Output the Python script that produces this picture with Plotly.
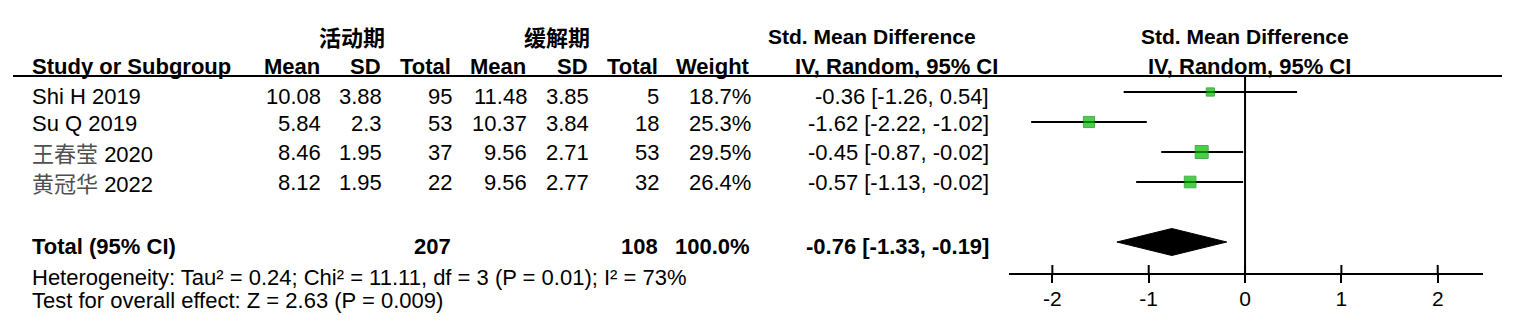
import plotly.graph_objects as go

# ---------------- data ----------------
studies_cn = ["", "", "王春莹", "黄冠华"]
studies_en = ["Shi H 2019", "Su Q 2019", "2020", "2022"]
mean1 = [10.08, 5.84, 8.46, 8.12]
sd1 = [3.88, 2.3, 1.95, 1.95]
n1 = [95, 53, 37, 22]
mean2 = [11.48, 10.37, 9.56, 9.56]
sd2 = [3.85, 3.84, 2.71, 2.77]
n2 = [5, 18, 53, 32]
weight = [18.7, 25.3, 29.5, 26.4]
smd = [-0.36, -1.62, -0.45, -0.57]
ci_lo = [-1.26, -2.22, -0.87, -1.13]
ci_hi = [0.54, -1.02, -0.02, -0.02]
total_n1 = 207
total_n2 = 108
total_weight = 100.0
total_smd = -0.76
total_lo = -1.33
total_hi = -0.19
group1 = "活动期"
group2 = "缓解期"
heterogeneity = "Heterogeneity: Tau² = 0.24; Chi² = 11.11, df = 3 (P = 0.01); I² = 73%"
overall = "Test for overall effect: Z = 2.63 (P = 0.009)"
tick_vals = [-2, -1, 0, 1, 2]
tick_text = ["-2", "-1", "0", "1", "2"]

# ---------------- layout constants ----------------
W, H = 1535, 332
FONT = "Liberation Sans, Arial, sans-serif"
CJK = "Noto Sans CJK SC"
FS = 22
ROW0, ROWH = 92, 30          # pixel y of first row, row spacing
AXIS_PX = 273                # pixel y of forest x-axis
HEAD_LINE_PX = 76
X_LEFT_PX, X_RIGHT_PX = 1009, 1483
XR = [-2.45, 2.47]
TOTAL_IDX = 5.0


def px2idx(py):
    return (py - ROW0) / ROWH


def px(x):
    return x / W


def py(y):
    return 1 - y / H


green = "#00BB00"
green_edge = "#008A00"

fig = go.Figure()

# CI lines
xs, ys = [], []
for i in range(len(smd)):
    xs += [ci_lo[i], ci_hi[i], None]
    ys += [i, i, None]
fig.add_trace(go.Scatter(x=xs, y=ys, mode="lines",
                         line=dict(color="black", width=2), hoverinfo="skip"))
# squares
fig.add_trace(go.Scatter(x=smd, y=list(range(len(smd))), mode="markers",
                         marker=dict(symbol="square", color=green,
                                     size=[w * 0.44 for w in weight],
                                     line=dict(color=green_edge, width=1)),
                         hoverinfo="skip"))
# diamond
hh = 13.5 / ROWH
fig.add_trace(go.Scatter(
    x=[total_lo, total_smd, total_hi, total_smd, total_lo],
    y=[TOTAL_IDX, TOTAL_IDX - hh, TOTAL_IDX, TOTAL_IDX + hh, TOTAL_IDX],
    mode="lines", fill="toself", fillcolor="black",
    line=dict(color="black", width=1), hoverinfo="skip"))

ann = []


def add(text, x, y, anchor="right", bold=False, yref="y", size=FS, family=FONT, color="black"):
    if bold:
        text = f"<b>{text}</b>"
    ann.append(dict(text=text, x=px(x), xref="paper", y=y, yref=yref,
                    xanchor=anchor, yanchor="middle", showarrow=False,
                    font=dict(family=family, size=size, color=color)))


# headers
HDR1 = py(36)
HDR2 = py(66)
add(group1, 352, HDR1, anchor="center", bold=True, yref="paper", size=22, family=CJK)
add(group2, 557, HDR1, anchor="center", bold=True, yref="paper", size=22, family=CJK)
add("Std. Mean Difference", 872, HDR1, anchor="center", bold=True, yref="paper", size=21)
add("Std. Mean Difference", 1245, HDR1, anchor="center", bold=True, yref="paper", size=21)
add("Study or Subgroup", 30, HDR2, anchor="left", bold=True, yref="paper")
cols_right = [322, 383, 453, 528, 590, 660, 752]
col_names = ["Mean", "SD", "Total", "Mean", "SD", "Total", "Weight"]
for xr_, nm in zip(cols_right, col_names):
    add(nm, xr_, HDR2, bold=True, yref="paper")
add("IV, Random, 95% CI", 1000, HDR2, bold=True, yref="paper")
add("IV, Random, 95% CI", 1249, HDR2, anchor="center", bold=True, yref="paper")

# study rows
TEXT_OFF = [0.15, 0.05, 0.0, 0.0]
for i in range(len(smd)):
    if studies_cn[i]:
        label = (f"<span style=\"font-family:'{CJK}';color:#505050\">{studies_cn[i]}</span> "
                 f"{studies_en[i]}")
    else:
        label = studies_en[i]
    ty = i + TEXT_OFF[i]
    add(label, 30, ty, anchor="left")
    vals = [f"{mean1[i]:g}", f"{sd1[i]:g}", f"{n1[i]}", f"{mean2[i]:g}",
            f"{sd2[i]:g}", f"{n2[i]}", f"{weight[i]:.1f}%"]
    for xr_, v in zip(cols_right, vals):
        add(v, xr_ + 1, ty)
    add(f"{smd[i]:.2f} [{ci_lo[i]:.2f}, {ci_hi[i]:.2f}]", 991, ty)

# total row
TY = TOTAL_IDX + 0.15
add("Total (95% CI)", 30, TY, anchor="left", bold=True)
add(f"{total_n1}", 453, TY, bold=True)
add(f"{total_n2}", 660, TY, bold=True)
add(f"{total_weight:.1f}%", 752, TY, bold=True)
add(f"{total_smd:.2f} [{total_lo:.2f}, {total_hi:.2f}]", 991, TY, bold=True)
add(heterogeneity, 30, py(277), anchor="left", yref="paper")
add(overall, 30, py(300), anchor="left", yref="paper")

shapes = []
# header rule
shapes.append(dict(type="line", xref="paper", yref="paper",
                   x0=px(13), x1=px(1502), y0=py(HEAD_LINE_PX), y1=py(HEAD_LINE_PX),
                   line=dict(color="black", width=2)))
# zero line
shapes.append(dict(type="line", xref="x", yref="paper", x0=0, x1=0,
                   y0=py(HEAD_LINE_PX), y1=py(AXIS_PX),
                   line=dict(color="black", width=2)))
# upper halves of crossing ticks
for t in tick_vals:
    shapes.append(dict(type="line", xref="x", yref="paper", x0=t, x1=t,
                       y0=py(AXIS_PX), y1=py(AXIS_PX - 8),
                       line=dict(color="black", width=2)))

fig.update_layout(
    width=W, height=H, margin=dict(l=0, r=0, t=0, b=0),
    paper_bgcolor="white", plot_bgcolor="white", showlegend=False,
    annotations=ann, shapes=shapes,
    xaxis=dict(domain=[px(X_LEFT_PX), px(X_RIGHT_PX)], range=XR,
               showgrid=False, zeroline=False, showline=True,
               linecolor="black", linewidth=2, ticks="outside", ticklen=8,
               tickwidth=2, tickcolor="black", tickvals=tick_vals, ticktext=tick_text,
               ticklabelstandoff=-2,
               tickfont=dict(family=FONT, size=21, color="black")),
    yaxis=dict(domain=[1 - AXIS_PX / H, 1],
               range=[px2idx(AXIS_PX), px2idx(0)],
               visible=False, showgrid=False, zeroline=False),
)

fig.write_html("out.html", config={"displayModeBar": False})
